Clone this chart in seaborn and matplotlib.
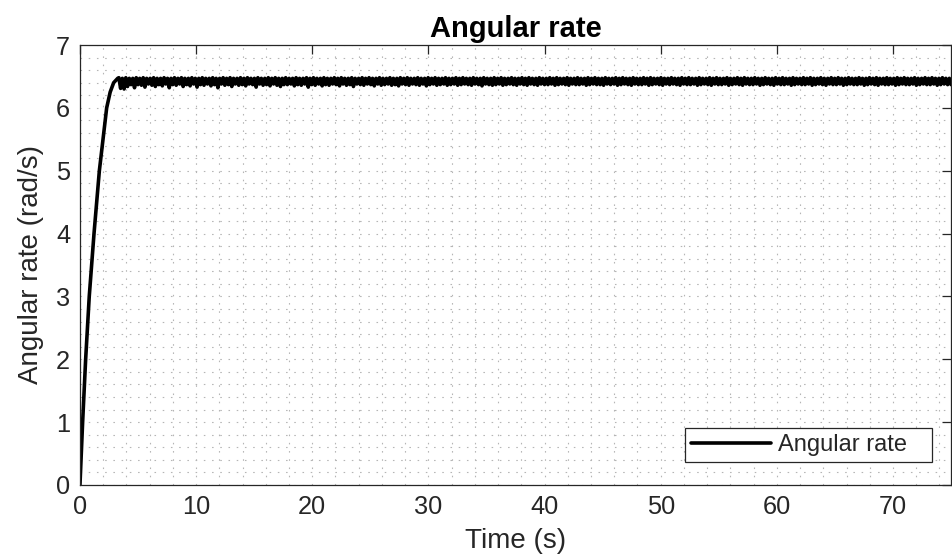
import numpy as np
import pandas as pd
import matplotlib
matplotlib.use("Agg")
import matplotlib.pyplot as plt
import seaborn as sns
from matplotlib.ticker import MultipleLocator

# Rise phase
rise_t = [0.0, 0.23, 0.49, 0.80, 1.21, 1.67, 1.95, 2.3, 2.6, 2.9, 3.25]
rise_y = [0.0, 1.0, 2.0, 3.0, 4.0, 5.0, 5.45, 6.0, 6.25, 6.4, 6.47]

# Plateau phase: the signal oscillates fast between an upper and a lower
# envelope (in time order)
plateau_upper = [
    6.48, 6.47, 6.48, 6.47, 6.47, 6.48, 6.47, 6.48, 6.47, 6.47, 6.48, 6.47,
    6.47, 6.48, 6.47, 6.47, 6.48, 6.47, 6.48, 6.47, 6.47, 6.48, 6.47, 6.47,
    6.48, 6.47, 6.47, 6.48, 6.47, 6.47, 6.48, 6.47, 6.48, 6.47, 6.47, 6.48,
    6.47, 6.48, 6.47, 6.47, 6.48, 6.47, 6.47, 6.48, 6.47, 6.48, 6.47, 6.47,
    6.48, 6.47, 6.47, 6.48, 6.47, 6.47, 6.48, 6.47, 6.48, 6.47, 6.47, 6.48,
    6.47, 6.47, 6.48, 6.47, 6.48, 6.47, 6.47, 6.48, 6.47, 6.47, 6.48, 6.47,
    6.48, 6.47, 6.47, 6.48, 6.47, 6.47, 6.48, 6.47, 6.47, 6.48, 6.47, 6.48,
    6.47, 6.47, 6.48, 6.47, 6.47, 6.48, 6.47, 6.48, 6.47, 6.47, 6.48, 6.47,
    6.47, 6.48, 6.47, 6.48, 6.47, 6.47, 6.48, 6.47, 6.47, 6.48, 6.47, 6.47,
    6.48, 6.47, 6.48, 6.47, 6.47, 6.48, 6.47, 6.47, 6.48, 6.47, 6.48, 6.47,
    6.47, 6.48, 6.47, 6.47, 6.48, 6.47, 6.48, 6.47, 6.47, 6.48, 6.47, 6.47,
    6.48, 6.47, 6.47, 6.48, 6.47, 6.48, 6.47, 6.47, 6.48, 6.47, 6.47, 6.48,
    6.47, 6.48, 6.47, 6.47, 6.48, 6.47, 6.47, 6.48, 6.47, 6.48, 6.47, 6.47,
    6.48, 6.47, 6.47, 6.48, 6.47, 6.47, 6.48, 6.47, 6.48, 6.47, 6.47, 6.48,
    6.47, 6.47, 6.48, 6.47, 6.48, 6.47, 6.47, 6.48, 6.47, 6.47, 6.48, 6.47,
    6.48, 6.47, 6.47, 6.48, 6.47, 6.47, 6.48, 6.47, 6.47, 6.48, 6.47, 6.48,
    6.47, 6.47, 6.48, 6.47, 6.47, 6.48, 6.47, 6.48, 6.47, 6.47, 6.48, 6.47,
    6.47, 6.48, 6.47, 6.48, 6.47, 6.47, 6.48, 6.47, 6.47, 6.48, 6.47, 6.47,
    6.48, 6.47, 6.48, 6.47, 6.47, 6.48, 6.47, 6.47, 6.48, 6.47, 6.48, 6.47,
    6.47, 6.48, 6.47, 6.47, 6.48, 6.47, 6.48, 6.47, 6.47, 6.48, 6.47, 6.47,
]
plateau_lower = [
    6.31, 6.30, 6.34, 6.37, 6.32, 6.37, 6.36, 6.33, 6.38, 6.36, 6.34, 6.37,
    6.35, 6.38, 6.32, 6.37, 6.36, 6.38, 6.34, 6.37, 6.35, 6.38, 6.33, 6.37,
    6.36, 6.38, 6.35, 6.37, 6.32, 6.38, 6.36, 6.37, 6.34, 6.38, 6.36, 6.37,
    6.35, 6.38, 6.37, 6.33, 6.38, 6.36, 6.37, 6.35, 6.38, 6.36, 6.34, 6.37,
    6.37, 6.38, 6.35, 6.37, 6.36, 6.38, 6.33, 6.37, 6.36, 6.38, 6.35, 6.37,
    6.36, 6.38, 6.37, 6.35, 6.38, 6.36, 6.37, 6.34, 6.38, 6.37, 6.36, 6.38,
    6.37, 6.35, 6.38, 6.36, 6.37, 6.38, 6.36, 6.37, 6.35, 6.38, 6.37, 6.36,
    6.38, 6.37, 6.36, 6.38, 6.35, 6.37, 6.38, 6.36, 6.37, 6.38, 6.36, 6.37,
    6.38, 6.36, 6.37, 6.38, 6.37, 6.36, 6.38, 6.37, 6.35, 6.38, 6.37, 6.36,
    6.37, 6.38, 6.36, 6.37, 6.38, 6.37, 6.36, 6.38, 6.37, 6.36, 6.38, 6.37,
    6.36, 6.38, 6.37, 6.37, 6.38, 6.36, 6.37, 6.38, 6.37, 6.36, 6.38, 6.37,
    6.37, 6.38, 6.36, 6.37, 6.38, 6.37, 6.37, 6.36, 6.38, 6.37, 6.38, 6.36,
    6.37, 6.38, 6.37, 6.36, 6.38, 6.37, 6.37, 6.38, 6.36, 6.37, 6.38, 6.37,
    6.36, 6.38, 6.37, 6.38, 6.37, 6.36, 6.38, 6.37, 6.37, 6.38, 6.36, 6.37,
    6.38, 6.37, 6.36, 6.38, 6.37, 6.37, 6.38, 6.36, 6.37, 6.38, 6.37, 6.36,
    6.38, 6.37, 6.37, 6.38, 6.36, 6.37, 6.38, 6.37, 6.36, 6.38, 6.37, 6.37,
    6.38, 6.36, 6.37, 6.38, 6.37, 6.37, 6.38, 6.36, 6.37, 6.38, 6.37, 6.36,
    6.38, 6.37, 6.37, 6.38, 6.36, 6.37, 6.38, 6.37, 6.37, 6.38, 6.36, 6.37,
    6.38, 6.37, 6.36, 6.38, 6.37, 6.37, 6.38, 6.36, 6.37, 6.38, 6.37, 6.37,
    6.38, 6.36, 6.37, 6.38, 6.37, 6.37, 6.38, 6.36, 6.37, 6.38, 6.37, 6.37,
]

x_ticks = [0, 10, 20, 30, 40, 50, 60, 70]
y_ticks = [0, 1, 2, 3, 4, 5, 6, 7]

# assemble the plateau: alternate upper / lower samples in time order
plateau_y = np.ravel(np.column_stack([plateau_upper, plateau_lower]))
plateau_t = np.linspace(3.35, 75.0, len(plateau_y))

df = pd.DataFrame({
    "Time (s)": np.concatenate([rise_t, plateau_t]),
    "Angular rate": np.concatenate([rise_y, plateau_y]),
})

sns.set_theme(style="white")
plt.rcParams["font.family"] = ["Liberation Sans", "DejaVu Sans"]

fig = plt.figure(figsize=(9.53, 5.6), dpi=100)
ax = fig.add_axes([0.0839, 0.134, 0.9141, 0.7856])

sns.lineplot(data=df, x="Time (s)", y="Angular rate", ax=ax, color="black",
             linewidth=2.6, sort=False, estimator=None, label="Angular rate")

ax.set_xlim(0, 75)
ax.set_ylim(0, 7)
ax.set_xticks(x_ticks)
ax.set_yticks(y_ticks)
ax.xaxis.set_minor_locator(MultipleLocator(2))
ax.yaxis.set_minor_locator(MultipleLocator(0.2))

ax.grid(which="both", linestyle=(0, (1.4, 6)), color="#b5b5b5", linewidth=0.8)
ax.set_axisbelow(True)

dark = "#262626"
for s in ax.spines.values():
    s.set_color(dark)
    s.set_linewidth(0.9)
ax.tick_params(which="major", direction="in", length=6.5, width=0.9, colors=dark,
               labelsize=18.3, top=True, right=True, labelcolor=dark, pad=7)
ax.tick_params(which="minor", length=0, top=True, right=True)

ax.set_xlabel("Time (s)", fontsize=20, color=dark, labelpad=7)
ax.set_ylabel("Angular rate (rad/s)", fontsize=20, color=dark, labelpad=9)
ax.set_title("Angular rate", fontsize=21, fontweight="bold", color="black", pad=5.5)

leg = ax.legend(loc="lower left", bbox_to_anchor=(0.6946, 0.0523, 0.2836, 0.0773),
                mode="expand", fontsize=17, frameon=True, fancybox=False,
                edgecolor=dark, framealpha=1, borderaxespad=0,
                handlelength=3.4, borderpad=0.25, handletextpad=0.3)
leg.get_frame().set_linewidth(0.9)

fig.savefig("out.png", dpi=100)
